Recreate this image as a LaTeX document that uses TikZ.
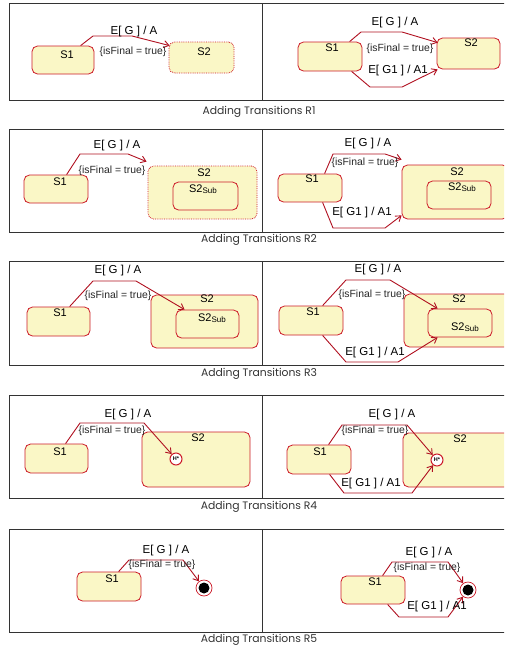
\documentclass[tikz,border=0pt]{standalone}
\usepackage{fontspec}
\setmainfont{Liberation Sans}
\newfontfamily\capfont{Poppins}
\usetikzlibrary{arrows.meta,calc}
\definecolor{sred}{HTML}{CC1A28}
\definecolor{tred}{HTML}{B01020}
\definecolor{syellow}{HTML}{FAF7C6}
\newcommand{\subtxt}[1]{\raisebox{-1pt}{\fontsize{8}{8}\selectfont #1}}
\tikzset{
  st/.style={draw=sred, fill=syellow, rounded corners=5.5pt, line width=0.8pt, inner sep=0pt},
  stdot/.style={st, densely dotted},
  tr/.style={draw=tred, line width=0.9pt, -{Straight Barb[length=5pt,width=7pt]}},
  nm/.style={font=\fontsize{11}{11}\selectfont, inner sep=0pt},
  lbl/.style={font=\fontsize{11.5}{12}\selectfont, inner sep=0pt},
  grd/.style={font=\fontsize{10.4}{11}\selectfont, inner sep=0pt, text=black!85},
  captxt/.style={font=\capfont\fontsize{10.8}{12}\selectfont, inner sep=0pt, text=black!80},
  frm/.style={draw=black!80, line width=0.9pt},
  hist/.style={circle, draw=sred, fill=white, line width=1pt, minimum size=12pt, inner sep=0pt, font=\bfseries\fontsize{5.5}{5.5}\selectfont},
  fin/.style={circle, draw=sred, fill=white, line width=0.7pt, minimum size=16pt, inner sep=0pt},
  fdot/.style={circle, fill=black, minimum size=11pt, inner sep=0pt}
}
\begin{document}
\begin{tikzpicture}[x=1pt,y=-1pt]
\useasboundingbox (0,0) rectangle (504,651);
\clip (0,0) rectangle (504,651);
% frames
\foreach \t/\b in {3/100,129/232,261/365,395/498,529/632}{
  \draw[frm] (9,\t) rectangle (512,\b);
  \draw[frm] (262,\t) -- (262,\b);
}
\node[captxt] (c1) at (259,112) {Adding Transitions R1};
\node[captxt] (c2) at (259,240) {Adding Transitions R2};
\node[captxt] (c3) at (259,374) {Adding Transitions R3};
\node[captxt] (c4) at (259,507) {Adding Transitions R4};
\node[captxt] (c5) at (259,640) {Adding Transitions R5};

% ===== R1 left
\node[st, minimum width=62pt, minimum height=28pt] (a1) at (63,60) {};
\node[nm] (a1t) at (67,55) {S1};
\node[stdot, minimum width=65pt, minimum height=31pt] (a2) at (201.5,57.5) {};
\node[nm] (a2t) at (204,52) {S2};
\draw[tr] ($(a1.north west)+(49,0)$) -- (93,36) -- (132,36) -- ($(a2.north west)+(1,4)$);
\node[lbl] (a3) at (134,32) {E[ G ] / A};
\node[grd] (a4) at (133,52) {\{isFinal = true\}};

% ===== R1 right
\node[st, minimum width=64pt, minimum height=29pt] (b1) at (330,56.5) {};
\node[nm] (b1t) at (332,48) {S1};
\node[st, minimum width=63pt, minimum height=31pt] (b2) at (468.5,53.5) {};
\node[nm] (b2t) at (471,43) {S2};
\draw[tr] ($(b1.north west)+(52,0)$) -- (361,32) -- (402,32) -- ($(b2.north west)+(1,5)$);
\draw[tr] ($(b1.south west)+(54,0)$) -- (370,87) -- (402,87) -- ($(b2.south west)+(1,0)$);
\node[lbl] (b3) at (395,23) {E[ G ] / A};
\node[grd] (b4) at (400,49) {\{isFinal = true\}};
\node[lbl] (b5) at (398,71) {E[ G1 ] / A1};

% ===== R2 left
\node[st, minimum width=64pt, minimum height=28pt] (d1) at (56,189) {};
\node[nm] (d1t) at (60,182) {S1};
\node[stdot, minimum width=109pt, minimum height=53pt] (d2) at (202.5,192.5) {};
\node[nm] (d2t) at (204,173) {S2};
\node[st, minimum width=65pt, minimum height=28pt] (d3) at (205.5,196) {};
\node[nm] (d3t) at (203,189) {S2\subtxt{Sub}};
\draw[tr] ($(d1.north west)+(43,0)$) -- (80,154) -- (128,154) -- ($(d2.north west)+(-1,-4)$);
\node[lbl] (d4) at (117,146) {E[ G ] / A};
\node[grd] (d5) at (112,171) {\{isFinal = true\}};

% ===== R2 right
\node[st, minimum width=64pt, minimum height=28pt] (e1) at (310,188) {};
\node[nm] (e1t) at (312,179) {S1};
\node[st, minimum width=106pt, minimum height=54pt] (e2) at (455,192) {};
\node[nm] (e2t) at (457,172) {S2};
\node[st, minimum width=64pt, minimum height=28pt] (e3) at (459,195) {};
\node[nm] (e3t) at (462,187) {S2\subtxt{Sub}};
\draw[tr] ($(e1.north west)+(47,0)$) -- (333,154) -- (385,154) -- ($(e2.north west)+(0,-5)$);
\draw[tr] ($(e1.south west)+(45,0)$) -- (333,228) -- (385,228) -- ($(e2.south west)+(0,-4)$);
\node[lbl] (e4) at (368,144) {E[ G ] / A};
\node[grd] (e5) at (365,163) {\{isFinal = true\}};
\node[lbl] (e6) at (362,213) {E[ G1 ] / A1};

% ===== R3 left
\node[st, minimum width=63pt, minimum height=29pt] (g1) at (58.5,321.5) {};
\node[nm] (g1t) at (60,313) {S1};
\node[st, minimum width=107pt, minimum height=53pt] (g2) at (204.5,321.5) {};
\node[nm] (g2t) at (207,299) {S2};
\node[st, minimum width=63pt, minimum height=28pt] (g3) at (207.5,324) {};
\node[nm] (g3t) at (212,318) {S2\subtxt{Sub}};
\draw[tr] ($(g1.north west)+(43,0)$) -- (93,281) -- (136,281) -- ($(g3.north west)+(9,0)$);
\node[lbl] (g4) at (118,271) {E[ G ] / A};
\node[grd] (g5) at (118,296) {\{isFinal = true\}};

% ===== R3 right
\node[st, minimum width=64pt, minimum height=29pt] (h1) at (311,320.5) {};
\node[nm] (h1t) at (313,312) {S1};
\node[st, minimum width=106pt, minimum height=53pt] (h2) at (457,320.5) {};
\node[nm] (h2t) at (459,299) {S2};
\node[st, minimum width=64pt, minimum height=28pt] (h3) at (460,323) {};
\node[nm] (h3t) at (465,327) {S2\subtxt{Sub}};
\draw[tr] ($(h1.north west)+(44,0)$) -- (346,280) -- (390,280) -- ($(h3.north west)+(10,0)$);
\draw[tr] ($(h1.south west)+(44,0)$) -- (346,362) -- (398,362) -- ($(h3.south west)+(10,0)$);
\node[lbl] (h4) at (378,270) {E[ G ] / A};
\node[grd] (h5) at (372,295) {\{isFinal = true\}};
\node[lbl] (h6) at (375,353) {E[ G1 ] / A1};

% ===== R4 left
\node[st, minimum width=63pt, minimum height=29pt] (k1) at (56.5,458.5) {};
\node[nm] (k1t) at (60,452) {S1};
\node[st, minimum width=108pt, minimum height=55pt] (k2) at (196,459.5) {};
\node[nm] (k2t) at (198,438) {S2};
\node[hist] (k3) at (176,459) {H*};
\draw[tr] ($(k1.north west)+(41,0)$) -- (80,423) -- (144,423) -- (k3);
\node[lbl] (k4) at (128,415) {E[ G ] / A};
\node[grd] (k5) at (112,431) {\{isFinal = true\}};

% ===== R4 right
\node[st, minimum width=64pt, minimum height=29pt] (m1) at (319,459.5) {};
\node[nm] (m1t) at (320,452) {S1};
\node[st, minimum width=107pt, minimum height=54pt] (m2) at (456.5,460) {};
\node[nm] (m2t) at (460,439) {S2};
\node[hist] (m3) at (437,460) {H*};
\draw[tr] ($(m1.north west)+(42,0)$) -- (342,425) -- (407,425) -- (m3);
\draw[tr] ($(m1.south west)+(43,0)$) -- (344,493) -- (412,493) -- (m3);
\node[lbl] (m4) at (392,415) {E[ G ] / A};
\node[grd] (m5) at (375,431) {\{isFinal = true\}};
\node[lbl] (m6) at (371,484) {E[ G1 ] / A1};

% ===== R5 left
\node[st, minimum width=64pt, minimum height=29pt] (p1) at (109,586.5) {};
\node[nm] (p1t) at (112,579) {S1};
\node[fin] (p2) at (204,588) {};
\node[fdot] (p2d) at (p2.center) {};
\draw[tr] ($(p1.north west)+(42,0)$) -- (129,560) -- (183,560) -- (p2);
\node[lbl] (p4) at (166,551) {E[ G ] / A};
\node[grd] (p5) at (162,565) {\{isFinal = true\}};

% ===== R5 right
\node[st, minimum width=64pt, minimum height=28pt] (q1) at (373,590) {};
\node[nm] (q1t) at (375,582) {S1};
\node[fin] (q2) at (468,590) {};
\node[fdot] (q2d) at (q2.center) {};
\draw[tr] ($(q1.north west)+(42,0)$) -- (392,562) -- (448,562) -- (q2);
\draw[tr] ($(q1.south west)+(47,0)$) -- (399,617) -- (448,617) -- (q2);
\node[lbl] (q4) at (429,553) {E[ G ] / A};
\node[grd] (q5) at (427,568) {\{isFinal = true\}};
\node[lbl] (q6) at (437,607) {E[ G1 ] / A1};
\end{tikzpicture}
\end{document}
